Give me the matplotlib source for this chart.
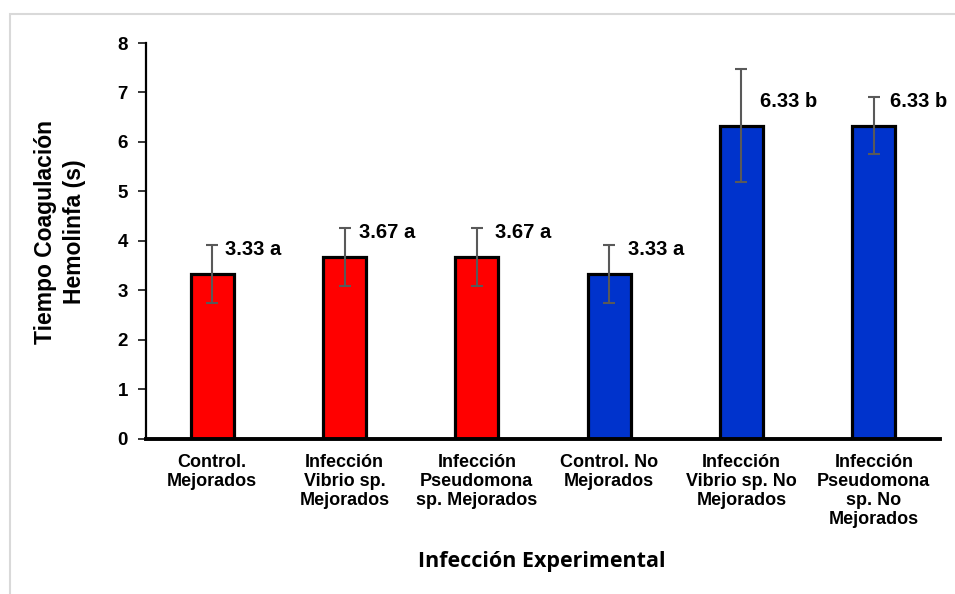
import matplotlib
matplotlib.use("Agg")
import matplotlib.pyplot as plt
from matplotlib.patches import Rectangle

categories = [
    "Control.\nMejorados",
    "Infección\nVibrio sp.\nMejorados",
    "Infección\nPseudomona\nsp. Mejorados",
    "Control. No\nMejorados",
    "Infección\nVibrio sp. No\nMejorados",
    "Infección\nPseudomona\nsp. No\nMejorados",
]
values = [3.33, 3.67, 3.67, 3.33, 6.33, 6.33]
errors = [0.58, 0.58, 0.58, 0.58, 1.15, 0.58]
letters = ["a", "a", "a", "a", "b", "b"]
colors = ["#FF0000", "#FF0000", "#FF0000", "#0033CC", "#0033CC", "#0033CC"]
yticks = [0, 1, 2, 3, 4, 5, 6, 7, 8]

# label x offsets (in category units) for layout
label_dx = [0.10, 0.11, 0.14, 0.14, 0.14, 0.12]
label_dy = 0.49

W, H = 955, 594
fig = plt.figure(figsize=(W / 100, H / 100), dpi=100)
plt.rcParams['font.family'] = ['Liberation Sans', 'DejaVu Sans']

ax = fig.add_axes([146 / W, 1 - 438.7 / H, (940 - 146) / W, (438.7 - 43) / H])

x = list(range(len(categories)))
ax.bar(x, values, width=0.325, color=colors, edgecolor="black", linewidth=2.3, zorder=2)
ax.errorbar(x, values, yerr=errors, fmt="none", ecolor="#595959", elinewidth=1.5,
            capsize=4.5, capthick=1.5, zorder=3)

for xi, v, l, dx in zip(x, values, letters, label_dx):
    ax.text(xi + dx, v + label_dy, f"{v:.2f} {l}", ha="left", va="center",
            fontsize=14.5, fontweight="bold", color="black", zorder=4)

ax.set_xlim(-0.5, len(categories) - 0.5)
ax.set_ylim(0, 8)
ax.set_yticks(yticks)
ax.set_yticklabels([str(t) for t in yticks], fontsize=13.5, fontweight="bold")
ax.set_xticks(x)
ax.set_xticklabels(categories, fontsize=13, fontweight="bold", linespacing=1.15)
ax.tick_params(axis="x", length=0, pad=11)
ax.tick_params(axis="y", length=6, width=1.3, color="#262626", pad=7, direction="out")

for s in ["top", "right"]:
    ax.spines[s].set_visible(False)
ax.spines["left"].set_linewidth(1.6)
ax.spines["bottom"].set_linewidth(2.8)
ax.spines["bottom"].set_zorder(5)

fig.text(60 / W, 1 - 232 / H, "Tiempo Coagulación\nHemolinfa (s)", rotation=90,
         ha="center", va="center", fontsize=16.5, fontweight="bold", linespacing=1.35,
         multialignment="center")
fig.text(542 / W, 1 - 562 / H, "Infección Experimental", ha="center", va="center",
         fontsize=15.5, fontweight="bold", family=["Open Sans", "DejaVu Sans"])

border = Rectangle((10 / W, -0.1), 1.2, 1.1 - 14 / H, transform=fig.transFigure,
                   fill=False, edgecolor="#d9d9d9", linewidth=1.5, zorder=0)
fig.patches.append(border)

fig.savefig("out.png", dpi=100)
